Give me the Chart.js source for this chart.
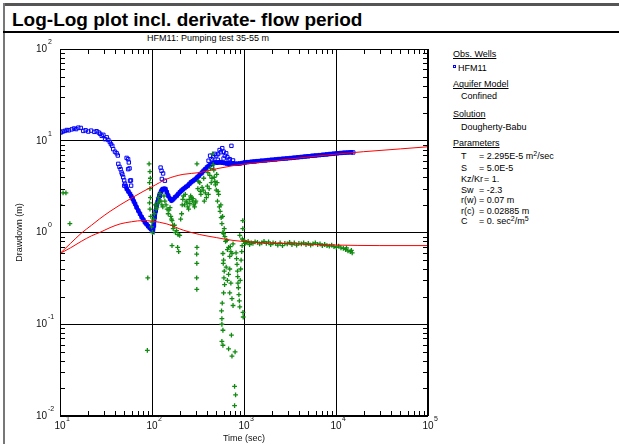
<!DOCTYPE html>
<html>
<head>
<meta charset="utf-8">
<script src="https://cdn.jsdelivr.net/npm/chart.js@4.4.0/dist/chart.umd.min.js"></script>
<style>
body { margin: 0; background: #fff; font-family: "Liberation Sans", Arial, sans-serif; color: #000; }
#wrap { position: relative; width: 619px; height: 444px; overflow: hidden; }
#chart { position: absolute; left: 0; top: 0; }
.abs { position: absolute; white-space: nowrap; }
.p { font-size: 9px; line-height: 10px; }
.u { text-decoration: underline; }
sup { font-size: 7px; line-height: 0; vertical-align: 3px; }
</style>
</head>
<body>
<div id="wrap">
  <div class="abs" style="left:3px;top:3px;width:616px;height:3px;background:#555"></div>
  <div class="abs" style="left:3px;top:3px;width:2px;height:441px;background:#777"></div>
  <div class="abs" style="left:3px;top:31px;width:616px;height:2px;background:#000"></div>
  <div class="abs" style="left:12px;top:10px;font-size:19px;line-height:20px;font-weight:bold">Log-Log plot incl. derivate- flow period</div>
  <div class="abs p" style="left:108px;top:33px;width:200px;text-align:center">HFM11: Pumping test 35-55 m</div>

  <canvas id="chart" width="440" height="444"></canvas>

  <div class="abs p u" style="left:453px;top:49px">Obs. Wells</div>
  <div class="abs" style="left:453px;top:65px;width:1px;height:1px;border:1px solid #00f"></div>
  <div class="abs p" style="left:458px;top:63px">HFM11</div>
  <div class="abs p u" style="left:453px;top:79px">Aquifer Model</div>
  <div class="abs p" style="left:461px;top:91px">Confined</div>
  <div class="abs p u" style="left:453px;top:109px">Solution</div>
  <div class="abs p" style="left:461px;top:122px">Dougherty-Babu</div>
  <div class="abs p u" style="left:453px;top:138px">Parameters</div>
  <div id="params"></div>
</div>
<script>
// observed drawdown HFM11 (main curve)
var obsT = [10.2, 10.7, 11.3, 11.9, 12.5, 13.4, 14.2, 15.0, 15.8, 16.8, 17.9, 19.0, 20.3, 21.8, 23.6, 25.0, 26.3, 27.3, 28.4, 29.6,
  30.9, 32.2, 33.5, 34.8, 35.8, 37.0, 37.9, 39.6, 41.3, 42.5,
  43, 44.3, 45.6, 46.7, 47.6, 48.6, 49.8, 50.9, 52.0, 53.2, 55.4, 57.7, 59.6, 61.6, 63.5, 65.5, 68, 71, 74, 77.3,
  80.5, 83.8, 87.3, 91, 94.7, 98.5, 102.5,
  105, 107, 110, 112, 115, 117, 120, 122, 125, 127, 130, 132, 136, 140, 145, 150, 157, 163, 170, 178,
  186, 193, 201, 209, 217, 226, 235, 245, 255, 265, 276, 287, 299, 311, 323, 336, 350, 364, 379, 395,
  412, 428, 445, 463, 482, 502, 523, 543, 565, 590, 620, 650, 690, 730, 760, 800, 850, 900, 960, 1020,
  1100, 1200, 1300, 1400, 1550, 1700, 1850, 2000, 2200, 2400, 2650, 2900, 3200, 3500, 3850, 4200, 4600, 5000, 5500, 6000,
  6600, 7200, 7900, 8600, 9400, 10300, 11300, 12300, 13400, 14600, 15400];
var obsS = [12.3, 12.6, 12.8, 13.1, 13.0, 13.3, 13.6, 13.4, 13.9, 13.8, 12.8, 13.0, 12.6, 12.9, 12.5, 12.7, 12.3, 11.9, 11.3, 11.6,
  10.4, 10.9, 10.2, 9.7, 9.2, 8.8, 8.1, 7.6, 7.3, 6.9,
  5.6, 5.2, 4.9, 4.5, 4.3, 4.0, 3.7, 3.4, 3.2, 2.98, 2.8, 2.63, 2.48, 2.33, 2.18, 2.05, 1.88, 1.73, 1.6, 1.47,
  1.38, 1.29, 1.23, 1.17, 1.12, 1.08, 1.04,
  1.19, 1.47, 1.73, 1.97, 2.15, 2.33, 2.5, 2.63, 2.75, 2.86, 2.95, 2.98, 3.0, 2.98, 2.75, 2.52, 2.33, 2.23, 2.3, 2.42,
  2.52, 2.63, 2.75, 2.86, 2.95, 3.05, 3.15, 3.24, 3.38, 3.52, 3.62, 3.73, 3.85, 3.99, 4.15, 4.34, 4.5, 4.72, 4.9, 5.12,
  5.3, 5.45, 5.6, 5.7, 5.8, 5.75, 5.8, 5.85, 5.8, 5.75, 5.7, 5.65, 5.6, 5.65, 5.7, 5.6, 5.62, 5.66, 5.72, 5.8,
  5.85, 5.9, 5.95, 6.0, 6.06, 6.1, 6.16, 6.2, 6.26, 6.32, 6.37, 6.42, 6.48, 6.54, 6.6, 6.66, 6.72, 6.78, 6.85, 6.9,
  6.97, 7.03, 7.1, 7.17, 7.23, 7.3, 7.36, 7.42, 7.45, 7.5, 7.45];

// scattered observed points off the main curve
var obsOutT = [53, 55, 56, 57, 55, 57.7, 59.3, 50, 59, 124, 127, 132, 128, 138,
  412, 428, 445, 463, 480, 500, 523, 543, 560, 580, 600, 620, 640, 660, 700, 730, 520, 600, 680, 450, 760];
var obsOutS = [6.5, 6.3, 5.8, 5.0, 4.9, 3.67, 3.24, 3.24, 3.7, 5.1, 4.7, 4.4, 3.83, 3.67,
  6.06, 6.87, 6.3, 6.6, 7.2, 6.9, 7.17, 7.92, 7.5, 8.3, 7.6, 6.87, 7.3, 6.6, 6.3, 8.8, 6.2, 6.4, 6.2, 5.2, 6.1];

// derivative
var derT = [10, 10.8, 11.6, 12.8, 90, 89,
  93, 95, 96, 94, 95, 96, 94, 95, 97, 100, 99, 101,
  104, 106, 108, 111, 113, 116, 117, 120, 122, 125, 128, 131, 135, 138, 142, 146, 150, 153, 157, 160, 163, 165, 168, 170, 175, 180, 185, 192, 200, 165, 190, 195,
  205, 210, 213, 216, 220, 225, 230, 235, 240, 245, 250, 254, 258, 263, 268, 274, 280, 285, 290, 296, 300,
  308, 308, 306, 307, 306, 307,
  315, 320, 330, 335, 340, 350, 360, 365, 370, 380, 390, 400, 405, 410, 418, 425, 432, 440, 448, 455, 462, 470, 475, 482, 490, 500, 505, 510, 515, 522, 530, 540, 550, 560, 565, 575, 585,
  590, 600, 610, 620, 630, 650, 660, 680, 700, 720, 740, 590, 600, 595, 610, 605, 615, 600, 580, 570, 575, 575, 590, 575, 590, 680, 730, 740, 800, 790, 810, 790, 640, 660, 680, 700, 720, 700, 740, 760, 710, 760,
  820, 830, 840, 850, 855, 860, 870, 880, 890, 900, 910, 920, 930, 945, 955, 900, 970, 970, 980, 975, 960, 990, 1000,
  1030, 1070, 1110, 1150, 1200, 1250, 1320, 1400, 1480, 1560, 1650, 1750, 1850, 1950, 2070, 2200, 2330, 2470, 2620, 2780,
  2950, 3130, 3320, 3520, 3730, 3950, 4200, 4450, 4720, 5000, 5300, 5620, 5960, 6320, 6700, 7100, 7530, 7980, 8460, 8970,
  9510, 10080, 10690, 11330, 12010, 12730, 13490, 14300, 15000, 14700, 13000];
var derS = [2.0, 2.7, 2.7, 1.25, 0.32, 0.052,
  5.6, 4.6, 3.9, 3.5, 3.0, 2.4, 2.1, 1.8, 1.5, 1.3, 1.15, 1.0,
  1.4, 1.6, 2.0, 1.8, 1.87, 2.1, 2.4, 2.2, 2.65, 2.2, 2.0, 1.9, 2.5, 2.2, 2.0, 1.8, 1.6, 1.75, 1.87, 1.5, 1.4, 1.35, 1.2, 1.1, 1.2, 1.0, 1.05, 0.95, 0.93, 0.72, 0.69, 0.62,
  1.4, 1.6, 2.0, 2.3, 2.5, 2.0, 2.6, 2.2, 2.1, 1.9, 1.8, 2.3, 2.06, 2.5, 2.4, 2.2, 2.34, 2.0, 1.9, 2.1, 2.2,
  5.6, 0.69, 0.58, 0.46, 0.32, 0.24,
  3.0, 3.6, 3.5, 2.8, 2.6, 3.1, 2.9, 3.9, 2.2, 2.7, 2.4, 3.2, 4.5, 2.6, 3.0, 4.2, 5.0, 3.5, 3.9, 7.2, 5.5, 4.8, 4.0, 3.6, 3.3, 2.9, 4.3, 3.5, 2.2, 2.8, 2.6, 1.9, 1.7, 2.0, 1.45, 1.25, 1.5,
  1.0, 0.97, 1.1, 0.9, 0.8, 0.82, 0.65, 0.69, 0.55, 0.62, 0.59, 0.59, 0.5, 0.46, 0.38, 0.32, 0.27, 0.22, 0.17, 0.14, 0.115, 0.10, 0.086, 0.065, 0.059, 0.054, 0.076, 0.045, 0.05, 0.021, 0.017, 0.013, 0.42, 0.3, 0.35, 0.4, 0.28, 0.22, 0.19, 0.16, 0.7, 0.75,
  0.6, 0.52, 0.45, 0.38, 0.33, 0.28, 0.25, 0.21, 0.18, 0.155, 0.3, 0.4, 0.5, 0.62, 0.72, 0.93, 1.35, 1.1, 0.12, 0.135, 0.85, 0.82, 0.8,
  0.76, 0.78, 0.8, 0.74, 0.77, 0.76, 0.79, 0.78, 0.75, 0.77, 0.8, 0.76, 0.79, 0.74, 0.77, 0.76, 0.73, 0.77, 0.72, 0.76,
  0.75, 0.78, 0.74, 0.77, 0.73, 0.76, 0.75, 0.77, 0.74, 0.76, 0.73, 0.75, 0.77, 0.74, 0.75, 0.72, 0.74, 0.72, 0.71, 0.73,
  0.7, 0.69, 0.71, 0.68, 0.67, 0.65, 0.63, 0.62, 0.6, 0.64, 0.68];

// Dougherty-Babu type curves
var fitT = [10, 13, 17, 22, 27, 35, 45, 62, 80, 100, 145, 217, 330, 500, 760, 1000, 2000, 4000, 10000, 20000, 50000, 100000];
var fitS = [0.59, 0.76, 0.98, 1.2, 1.41, 1.7, 2.0, 2.42, 2.8, 3.15, 3.83, 4.3, 4.5, 4.95, 5.35, 5.57, 6.0, 6.5, 7.15, 7.6, 8.15, 8.6];
var fitDerT = [10, 13, 17, 22, 27, 35, 45, 60, 80, 100, 145, 219, 330, 500, 760, 1760, 4000, 10000, 30000, 100000];
var fitDerS = [0.59, 0.68, 0.8, 0.92, 1.0, 1.13, 1.24, 1.31, 1.35, 1.33, 1.24, 1.06, 0.95, 0.88, 0.82, 0.77, 0.75, 0.73, 0.72, 0.72];

var xTickExp = [1, 2, 3, 4, 5];
var yTickExp = [-2, -1, 0, 1, 2];

var paramNames = ['T', 'S', 'Kz/Kr', 'Sw', 'r(w)', 'r(c)', 'C'];
var paramValues = ['= 2.295E-5 m<sup>2</sup>/sec', '= 5.0E-5', '= 1.', '= -2.3', '= 0.07 m', '= 0.02885 m', '= 0. sec<sup>2</sup>/m<sup>5</sup>'];
var paramTops = [151, 163, 174, 185, 195, 206, 216];

var html = '';
paramNames.forEach(function (n, i) {
  html += '<div class="abs p" style="left:461px;top:' + paramTops[i] + 'px">' + n + '</div>';
  html += '<div class="abs p" style="left:' + (n === 'Kz/Kr' ? 484 : 479) + 'px;top:' + paramTops[i] + 'px">' + paramValues[i] + '</div>';
});
document.getElementById('params').innerHTML = html;

function pts(xs, ys) {
  return xs.map(function (v, i) { return {x: v, y: ys[i]}; });
}

var FONT = '"Liberation Sans", Arial, sans-serif';

var decoPlugin = {
  id: 'deco',
  afterDraw: function (chart) {
    var ctx = chart.ctx, a = chart.chartArea, x = chart.scales.x, y = chart.scales.y;
    ctx.save();
    ctx.strokeStyle = '#000';
    ctx.lineWidth = 1;
    ctx.beginPath();
    var e, k, p;
    for (e = 1; e < 5; e++) for (k = 2; k <= 9; k++) {
      p = Math.round(x.getPixelForValue(k * Math.pow(10, e))) + 0.5;
      ctx.moveTo(p, a.bottom); ctx.lineTo(p, a.bottom - 5);
      ctx.moveTo(p, a.top); ctx.lineTo(p, a.top + 5);
    }
    for (e = -2; e < 2; e++) for (k = 2; k <= 9; k++) {
      p = Math.round(y.getPixelForValue(k * Math.pow(10, e))) + 0.5;
      ctx.moveTo(a.left, p); ctx.lineTo(a.left + 5, p);
      ctx.moveTo(a.right, p); ctx.lineTo(a.right - 5, p);
    }
    ctx.stroke();
    ctx.strokeRect(a.left + 0.5, a.top + 0.5, a.right - a.left - 1, a.bottom - a.top - 1);

    ctx.fillStyle = '#111';
    xTickExp.forEach(function (n) {
      var px = x.getPixelForValue(Math.pow(10, n));
      ctx.font = '10px ' + FONT;
      ctx.textAlign = 'center'; ctx.textBaseline = 'middle';
      ctx.fillText('10', px, a.bottom + 10);
      ctx.font = '7px ' + FONT;
      ctx.textAlign = 'left';
      ctx.fillText(String(n), px + 6, a.bottom + 3);
    });
    yTickExp.forEach(function (n) {
      var py = y.getPixelForValue(Math.pow(10, n));
      ctx.font = '10px ' + FONT;
      ctx.textAlign = 'right'; ctx.textBaseline = 'middle';
      ctx.fillText('10', a.left - 13, py);
      ctx.font = '7px ' + FONT;
      ctx.textAlign = 'left';
      ctx.fillText(String(n), a.left - 12, py - 7);
    });
    ctx.restore();
  }
};

var config = {
  type: 'scatter',
  data: {
    datasets: [
      {
        label: 'fit',
        data: pts(fitT, fitS),
        showLine: true, pointRadius: 0, borderColor: '#ff0000', borderWidth: 1,
        cubicInterpolationMode: 'monotone', order: 0
      },
      {
        label: 'fit derivative',
        data: pts(fitDerT, fitDerS),
        showLine: true, pointRadius: 0, borderColor: '#ff0000', borderWidth: 1,
        cubicInterpolationMode: 'monotone', order: 0
      },
      {
        label: 'derivative',
        data: pts(derT, derS),
        pointStyle: 'cross', pointRadius: 2.4, borderWidth: 1.3,
        borderColor: '#108a10', backgroundColor: '#108a10', order: 1
      },
      {
        label: 'HFM11',
        data: pts(obsT, obsS),
        showLine: true, borderWidth: 4,
        segment: {
          borderColor: function (c) { return c.p0.parsed.x < 52 ? 'rgba(0,0,0,0)' : '#0000ff'; }
        },
        pointStyle: 'rect', pointRadius: 2.4, borderColor: '#0000ff', backgroundColor: 'rgba(0,0,0,0)',
        pointBorderWidth: 1, order: 2
      },
      {
        label: 'HFM11 scatter',
        data: pts(obsOutT, obsOutS),
        pointStyle: 'rect', pointRadius: 2.4, borderColor: '#0000ff', backgroundColor: 'rgba(0,0,0,0)',
        borderWidth: 1, order: 2
      }
    ]
  },
  options: {
    responsive: false,
    animation: false,
    devicePixelRatio: 1,
    layout: { padding: { top: 49, right: 12, left: 0, bottom: 0 } },
    plugins: { legend: { display: false }, tooltip: { enabled: false } },
    scales: {
      x: {
        type: 'logarithmic', min: 10, max: 100000,
        afterFit: function (s) { s.height = 28; },
        ticks: { display: false },
        grid: {
          drawTicks: false,
          color: function (c) { return c.tick && Math.abs(Math.log10(c.tick.value) % 1) < 1e-6 ? '#000' : 'rgba(0,0,0,0)'; }
        },
        border: { display: false },
        title: { display: true, text: 'Time (sec)', color: '#111', font: { size: 9, family: FONT }, padding: { top: 0, bottom: 0 } }
      },
      y: {
        type: 'logarithmic', min: 0.01, max: 100,
        afterFit: function (s) { s.width = 60; },
        ticks: { display: false },
        grid: {
          drawTicks: false,
          color: function (c) { return c.tick && Math.abs(Math.log10(c.tick.value) % 1) < 1e-6 ? '#000' : 'rgba(0,0,0,0)'; }
        },
        border: { display: false },
        title: { display: true, text: 'Drawdown (m)', color: '#111', font: { size: 9, family: FONT }, padding: { top: 14, bottom: 0 } }
      }
    }
  },
  plugins: [decoPlugin]
};

var ctx = document.getElementById('chart').getContext('2d');
var chart = new Chart(ctx, config);
</script>
</body>
</html>
